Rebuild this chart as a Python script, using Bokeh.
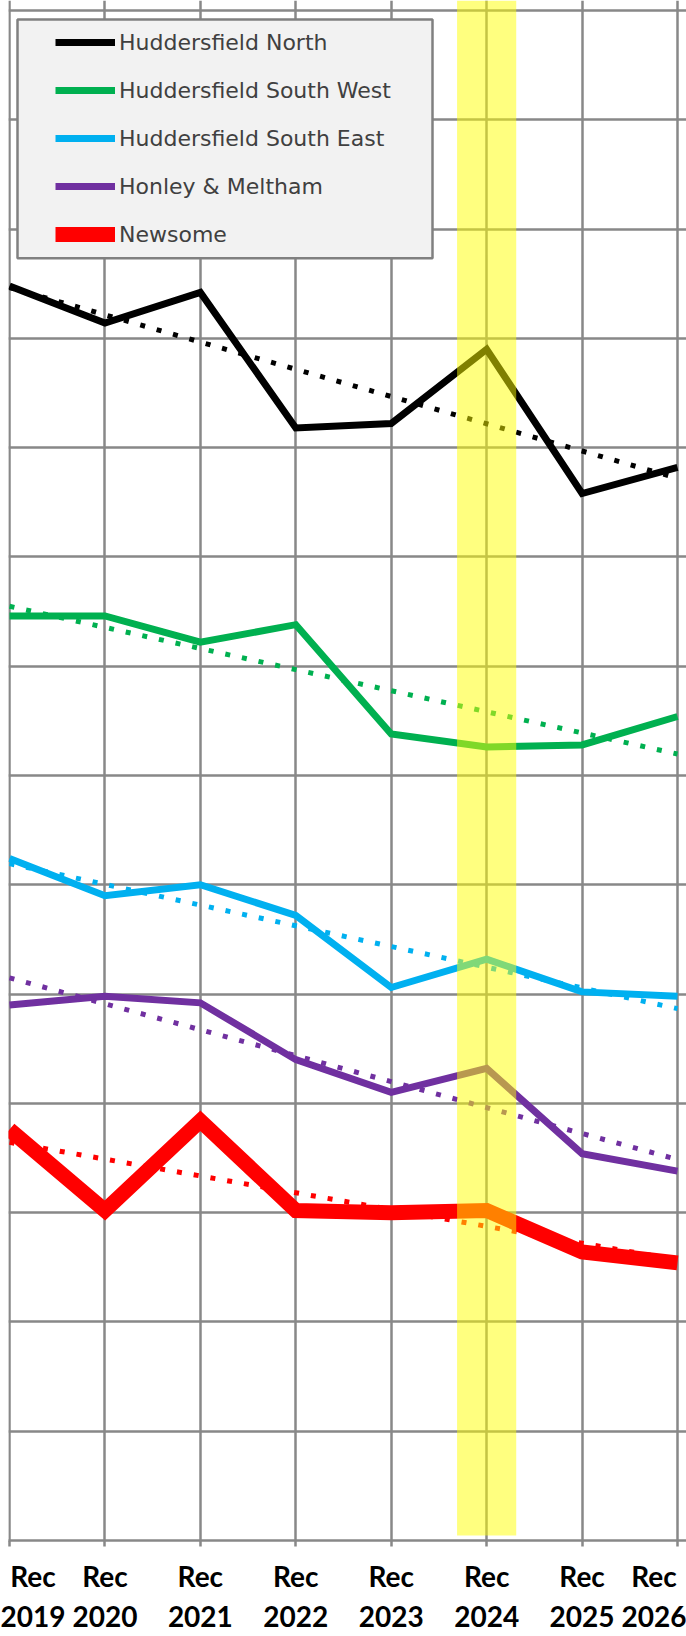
import numpy as np
from bokeh.plotting import figure
from bokeh.models import Range1d, FixedTicker, BoxAnnotation, Legend, LegendItem
from bokeh.embed import file_html
from bokeh.resources import INLINE

# ---------------- data ----------------
labels = ["Rec\n2019", "Rec\n2020", "Rec\n2021", "Rec\n2022",
          "Rec\n2023", "Rec\n2024", "Rec\n2025", "Rec\n2026"]
huddersfield_north = [57.4, 55.7, 57.1, 50.9, 51.1, 54.5, 47.9, 49.1]
huddersfield_south_west = [42.3, 42.3, 41.1, 41.9, 36.9, 36.3, 36.4, 37.7]
huddersfield_south_east = [31.2, 29.5, 30.0, 28.6, 25.3, 26.6, 25.1, 24.9]
honley_meltham = [24.5, 24.9, 24.6, 22.0, 20.5, 21.6, 17.7, 16.9]
newsome = [18.8, 15.1, 19.2, 15.1, 15.0, 15.1, 13.2, 12.7]
series_names = ["Huddersfield North", "Huddersfield South West",
                "Huddersfield South East", "Honley & Meltham", "Newsome"]
highlight_index = 5
y_ticks = list(range(0, 75, 5))

# ---------------- styles ----------------
colors = ["#000000", "#00b050", "#00b0f0", "#7030a0", "#ff0000"]
widths = [7, 7, 7, 7, 15]
GRID = "#888888"
FONT = "Lato"

x = np.arange(len(labels))
series = [huddersfield_north, huddersfield_south_west, huddersfield_south_east,
          honley_meltham, newsome]

W, H = 686, 1636
LEFT = 8
AXIS_PX = 1541          # page y of the x axis
TOP_GRID_PX = 10        # page y of the top gridline
X0_PX, X7_PX = 9, 677   # page x of first / last category
ppu_x = (X7_PX - X0_PX) / (len(x) - 1)
ppu_y = (AXIS_PX - TOP_GRID_PX) / y_ticks[-1]
x0 = -(X0_PX - LEFT) / ppu_x
x1 = (len(x) - 1) + (W - X7_PX) / ppu_x
y0 = 0
y1 = y_ticks[-1] + TOP_GRID_PX / ppu_y

p = figure(width=W, height=H, output_backend="svg", toolbar_location=None,
           x_range=Range1d(x0, x1), y_range=Range1d(y0, y1),
           min_border_left=LEFT, min_border_right=0, min_border_top=0,
           min_border_bottom=H - AXIS_PX, background_fill_color="white",
           border_fill_color="white")
p.outline_line_color = None

def px_x(px):
    return x0 + (px - LEFT) / ppu_x

def px_y(py):
    return (AXIS_PX - py) / ppu_y

# grids
p.xgrid.ticker = FixedTicker(ticks=list(x))
p.ygrid.ticker = FixedTicker(ticks=y_ticks)
for g in (p.xgrid, p.ygrid):
    g.grid_line_color = GRID
    g.grid_line_width = 2.5

p.yaxis.visible = False
ax = p.xaxis[0]
ax.ticker = FixedTicker(ticks=list(x))
ax.major_label_overrides = {int(i): lab for i, lab in zip(x, labels)}
ax.axis_line_color = GRID
ax.axis_line_width = 2.5
ax.major_tick_line_color = GRID
ax.major_tick_line_width = 2.5
ax.major_tick_out = 6
ax.major_tick_in = 0
ax.minor_tick_line_color = None
ax.major_label_text_font = FONT
ax.major_label_text_font_style = "bold"
ax.major_label_text_font_size = "28px"
ax.major_label_text_color = "#000000"
ax.major_label_standoff = 12

renderers = []
for vals, c, w in zip(series, colors, widths):
    r = p.line(x, vals, line_color=c, line_width=w, line_join="miter")
    renderers.append(r)

for vals, c in zip(series, colors):
    k, b = np.polyfit(x, vals, 1)
    p.line(x, k * x + b, line_color=c, line_width=5, line_dash="5 12",
           line_cap="butt")

# highlighted year band
band = BoxAnnotation(left=highlight_index - 0.31, right=highlight_index + 0.31,
                     bottom=px_y(1536), fill_color="#ffff00", fill_alpha=0.5,
                     line_color=None)
p.add_layout(band)

# legend box
box = BoxAnnotation(left=px_x(17), right=px_x(432), top=px_y(19), bottom=px_y(258),
                    fill_color="#f2f2f2", fill_alpha=1.0, line_color="#808080",
                    line_width=2.5, line_alpha=1.0)
p.add_layout(box)

items = [LegendItem(label=n, renderers=[r]) for n, r in zip(series_names, renderers)]
ITEM_H, SP = 30, 18
leg_h = 5 * ITEM_H + 4 * SP
leg_top = 43.3 - ITEM_H / 2
legend = Legend(items=items, location=(55 - LEFT, AXIS_PX - (leg_top + leg_h)),
                padding=0, margin=0, spacing=SP, glyph_width=60,
                glyph_height=ITEM_H, label_height=ITEM_H, label_standoff=4,
                background_fill_alpha=0, border_line_color=None,
                label_text_font="DejaVu Sans", label_text_font_size="22px",
                label_text_color="#404040")
p.add_layout(legend)

open("out.html", "w").write(file_html(p, INLINE))
